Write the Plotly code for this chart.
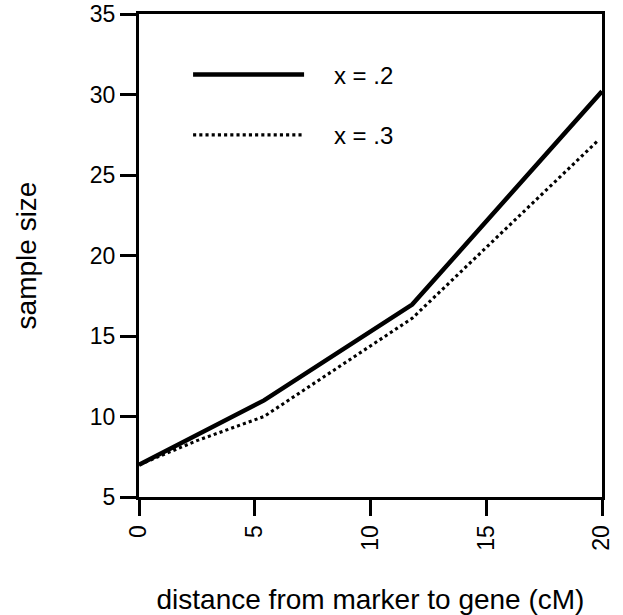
import plotly.graph_objects as go

# Data
distance_x02 = [0, 5.4, 11.8, 20]
sample_x02 = [7.0, 11.0, 16.95, 30.2]

distance_x03 = [0, 2.5, 5.4, 11.8, 19.8]
sample_x03 = [7.0, 8.5, 10.0, 16.1, 27.1]

x_ticks = [0, 5, 10, 15, 20]
y_ticks = [5, 10, 15, 20, 25, 30, 35]

FONT = "Liberation Sans, Arial, Helvetica, sans-serif"
PAD = "\u00a0\u00a0\u00a0\u2009"

fig = go.Figure()
fig.add_trace(go.Scatter(
    x=distance_x02, y=sample_x02, mode="lines", name=PAD + "x = .2",
    showlegend=True,
    line=dict(color="black", width=4.5), legend="legend"))
fig.add_trace(go.Scatter(
    x=distance_x03, y=sample_x03, mode="lines", name=PAD + "x = .3",
    showlegend=True,
    line=dict(color="black", width=3.1, dash="dot"), legend="legend2"))

axis_common = dict(
    showline=True, linecolor="black", linewidth=3, mirror=True,
    ticks="outside", ticklen=16, tickwidth=3, tickcolor="black",
    showgrid=False, zeroline=False, automargin=False,
    tickfont=dict(family=FONT, size=23, color="black"),
)

fig.update_layout(
    width=623, height=615,
    margin=dict(l=139, r=21, t=14, b=118),
    paper_bgcolor="white", plot_bgcolor="white",
    font=dict(family=FONT, color="black"),
    xaxis=dict(range=[0, 20], tickvals=x_ticks, tickangle=-90,
               title=dict(text="distance from marker to gene (cM)",
                          font=dict(family=FONT, size=28), standoff=40),
               **axis_common),
    yaxis=dict(range=[5, 35], tickvals=y_ticks,
               title=dict(text="sample size",
                          font=dict(family=FONT, size=28), standoff=46),
               **axis_common),
    legend=dict(x=0.106, y=0.874, xanchor="left", yanchor="middle",
                itemwidth=111, bgcolor="rgba(0,0,0,0)",
                font=dict(family=FONT, size=24)),
    legend2=dict(x=0.106, y=0.749, xanchor="left", yanchor="middle",
                 itemwidth=111, bgcolor="rgba(0,0,0,0)",
                 font=dict(family=FONT, size=24)),
)

fig.write_html("out.html",
               config={"displayModeBar": False},
               post_script="document.body.style.margin='0';"
                           "document.body.style.overflow='hidden';")
